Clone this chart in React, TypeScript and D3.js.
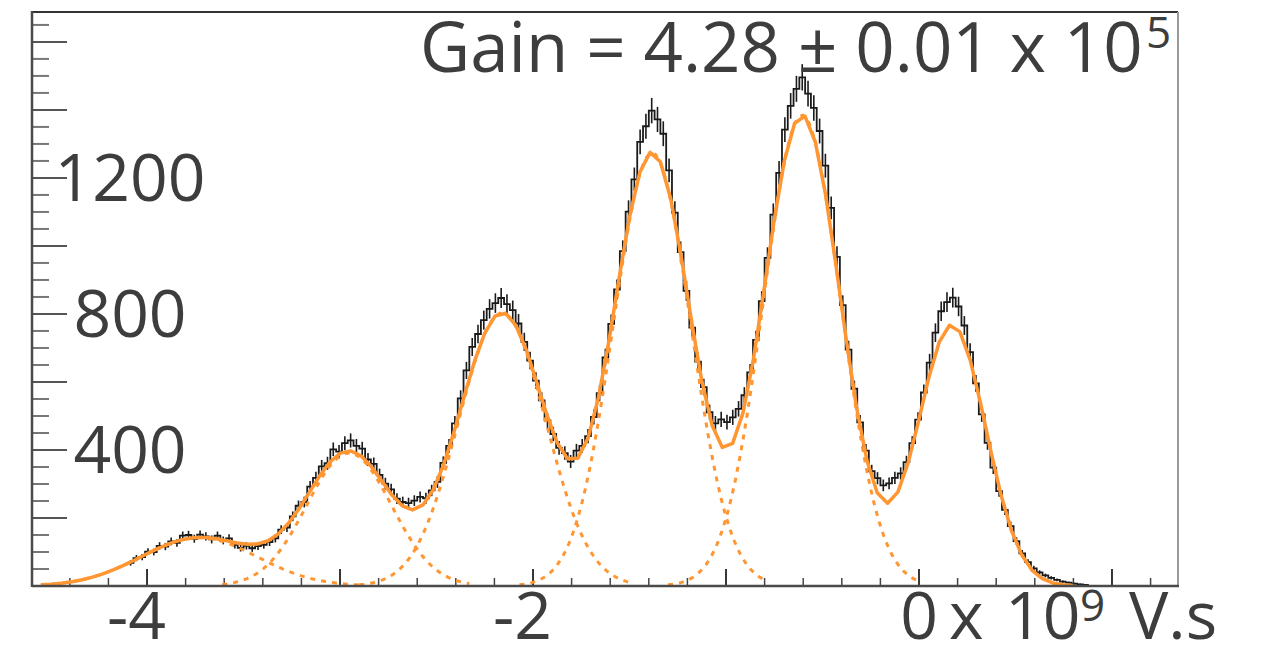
import * as d3 from 'd3';

// histogram of the charge spectrum (x 10^9 V.s), bins of 0.03 starting at -4.1
const binLo = -4.1;
const binWidth = 0.03;
const counts = [
  68, 82, 85, 101, 100, 118, 116, 131, 127, 148,
  150, 139, 151, 146, 137, 148, 134, 140, 121, 112,
  118, 111, 117, 121, 129, 140, 166, 172, 205, 236,
  247, 292, 318, 352, 361, 402, 395, 420, 428, 412,
  404, 372, 359, 327, 301, 284, 257, 247, 244, 251,
  262, 258, 281, 306, 362, 412, 478, 552, 634, 703,
  741, 782, 815, 832, 847, 829, 811, 772, 718, 663,
  604, 546, 487, 447, 406, 391, 366, 398, 412, 441,
  497, 567, 672, 771, 872, 985, 1101, 1196, 1306, 1352,
  1398, 1372, 1330, 1222, 1098, 982, 868, 760, 660, 585,
  511, 478, 490, 482, 496, 521, 561, 628, 724, 838,
  965, 1092, 1215, 1342, 1412, 1462, 1496, 1448, 1406, 1338,
  1236, 1112, 968, 826, 695, 580, 481, 398, 338, 317,
  296, 302, 318, 331, 364, 420, 489, 569, 657, 745,
  808, 835, 848, 822, 766, 688, 596, 505, 421, 348,
  279, 224, 176, 132, 96, 70, 52, 40, 31, 24,
  18, 13, 10, 7, 5, 3,
];

// fitted photo-electron peaks (gaussians)
const peakMean = [-3.73, -2.953, -2.16, -1.383, -0.606, 0.171];
const peakSigma = [0.3, 0.22, 0.225, 0.2, 0.2, 0.175];
const peakAmp = [142, 391, 803, 1274, 1385, 768];
// ranges where single components are drawn dashed
const dashFrom = [-4.55, -3.61, -2.9, -2.07, -1.3];
const dashTo = [-2.88, -2.33, -1.49, -0.79, 0.01];
const fitRange = [-4.55, 0.8];

const xMajor = [-4, -3, -2, -1, 0, 1];
const xLabels = [-4, -2, 0];
const yLabels = [400, 800, 1200];

const W = 1284;
const H = 651;
const frame = { left: 32, right: 1178, top: 12, bottom: 586 };
const font = "'Open Sans', sans-serif";
const textColor = '#3d3d3d';
const orange = '#ff9632';

const gauss = (k: number, v: number) =>
  peakAmp[k] * Math.exp(-((v - peakMean[k]) ** 2) / (2 * peakSigma[k] ** 2));

export default function App() {
  const x = d3.scaleLinear().domain([-4.596, 1.342]).range([frame.left, frame.right]);
  const y = d3.scaleLinear().domain([0, 1688]).range([frame.bottom, frame.top]);

  const line = d3
    .line<[number, number]>()
    .x((d) => x(d[0]))
    .y((d) => y(d[1]));

  // histogram steps
  let steps = '';
  counts.forEach((c, i) => {
    const x0 = x(binLo + i * binWidth);
    const x1 = x(binLo + (i + 1) * binWidth);
    steps += (i === 0 ? `M${x0},${y(c)}` : `V${y(c)}`) + `H${x1}`;
  });

  const fitPts: [number, number][] = d3.range(101).map((k) => {
    const v = fitRange[0] + ((fitRange[1] - fitRange[0]) * k) / 100;
    return [v, d3.sum(peakMean, (_, j) => gauss(j, v))];
  });

  const comps = dashFrom.map((a, k) =>
    d3.range(61).map((j) => {
      const v = a + ((dashTo[k] - a) * j) / 60;
      return [v, gauss(k, v)] as [number, number];
    })
  );

  const xMinor = d3
    .range(-23, 7)
    .filter((k) => k % 5 !== 0)
    .map((k) => k * 0.2)
    .filter((v) => v > -4.596 && v < 1.342);
  const yTicks = d3.range(1, 34).map((k) => k * 50);

  const digitHalf = 19;

  return (
    <svg
      width={W}
      height={H}
      style={{ position: 'absolute', left: 0, top: 0, background: '#fff' }}
    >
      <defs>
        <clipPath id="frameClip">
          <rect
            x={frame.left}
            y={frame.top}
            width={frame.right - frame.left}
            height={frame.bottom - frame.top}
          />
        </clipPath>
      </defs>

      {/* frame */}
      <line x1={frame.left} x2={frame.right} y1={frame.top} y2={frame.top} stroke="#333" strokeWidth={2} />
      <line x1={frame.right} x2={frame.right} y1={frame.top} y2={frame.bottom} stroke="#9a9a9a" strokeWidth={2} />

      {/* y ticks */}
      {yTicks.map((v) => (
        <line
          key={'yt' + v}
          x1={frame.left}
          x2={frame.left + (v % 200 === 0 ? 35 : 17)}
          y1={y(v)}
          y2={y(v)}
          stroke={v % 200 === 0 ? '#555' : '#777'}
          strokeWidth={2}
        />
      ))}

      {/* x ticks */}
      {xMinor.map((v) => (
        <line key={'xm' + v} x1={x(v)} x2={x(v)} y1={frame.bottom} y2={frame.bottom - 8} stroke="#444" strokeWidth={1.5} />
      ))}
      {xMajor.map((v) => (
        <line key={'xM' + v} x1={x(v)} x2={x(v)} y1={frame.bottom} y2={frame.bottom - 17} stroke="#222" strokeWidth={1.8} />
      ))}

      <g clipPath="url(#frameClip)">
        {/* data */}
        <path d={steps} fill="none" stroke="#1a1a1a" strokeWidth={1.8} />
        {counts.map((c, i) => {
          const cx = x(binLo + (i + 0.5) * binWidth);
          const e = Math.sqrt(c);
          return (
            <line key={'e' + i} x1={cx} x2={cx} y1={y(c - e)} y2={y(c + e)} stroke="#1a1a1a" strokeWidth={1.6} />
          );
        })}

        {/* components */}
        {comps.map((pts, k) => (
          <path
            key={'c' + k}
            d={line(pts) || ''}
            fill="none"
            stroke={orange}
            strokeWidth={3}
            strokeDasharray="5 6"
          />
        ))}
        {/* total fit */}
        <path d={line(fitPts) || ''} fill="none" stroke={orange} strokeWidth={3.5} strokeLinejoin="round" />
      </g>

      {/* axes lines */}
      <line x1={frame.left} x2={frame.left} y1={frame.top - 1} y2={frame.bottom + 1} stroke="#4a4a4a" strokeWidth={2.5} />
      <line x1={frame.left} x2={frame.right + 1} y1={frame.bottom} y2={frame.bottom} stroke="#4a4a4a" strokeWidth={2.5} />

      {/* y labels */}
      {yLabels.map((v) => (
        <text
          key={'yl' + v}
          x={130}
          y={y(v) + 23}
          textAnchor="middle"
          fontFamily={font}
          fontSize={66}
          fill={textColor}
        >
          {v}
        </text>
      ))}

      {/* x labels */}
      {xLabels.map((v) => (
        <text
          key={'xl' + v}
          x={x(v) + digitHalf}
          y={639}
          textAnchor="end"
          fontFamily={font}
          fontSize={66}
          fill={textColor}
        >
          {v < 0 ? '-' + Math.abs(v) : String(v)}
        </text>
      ))}
      <text x={949} y={639} fontFamily={font} fontSize={66} fill={textColor}>x</text>
      <text x={1005} y={639} fontFamily={font} fontSize={66} fill={textColor}>10</text>
      <text x={1080} y={621} fontFamily={font} fontSize={44} fill={textColor}>9</text>
      <text x={1129} y={639} fontFamily={font} fontSize={66} fill={textColor}>V.s</text>

      {/* gain */}
      <text x={420} y={72} fontFamily={font} fontSize={69} fill={textColor}>
        Gain = 4.28 ± 0.01 x 10
      </text>
      <text x={1146} y={48} fontFamily={font} fontSize={44} fill={textColor}>5</text>
    </svg>
  );
}
